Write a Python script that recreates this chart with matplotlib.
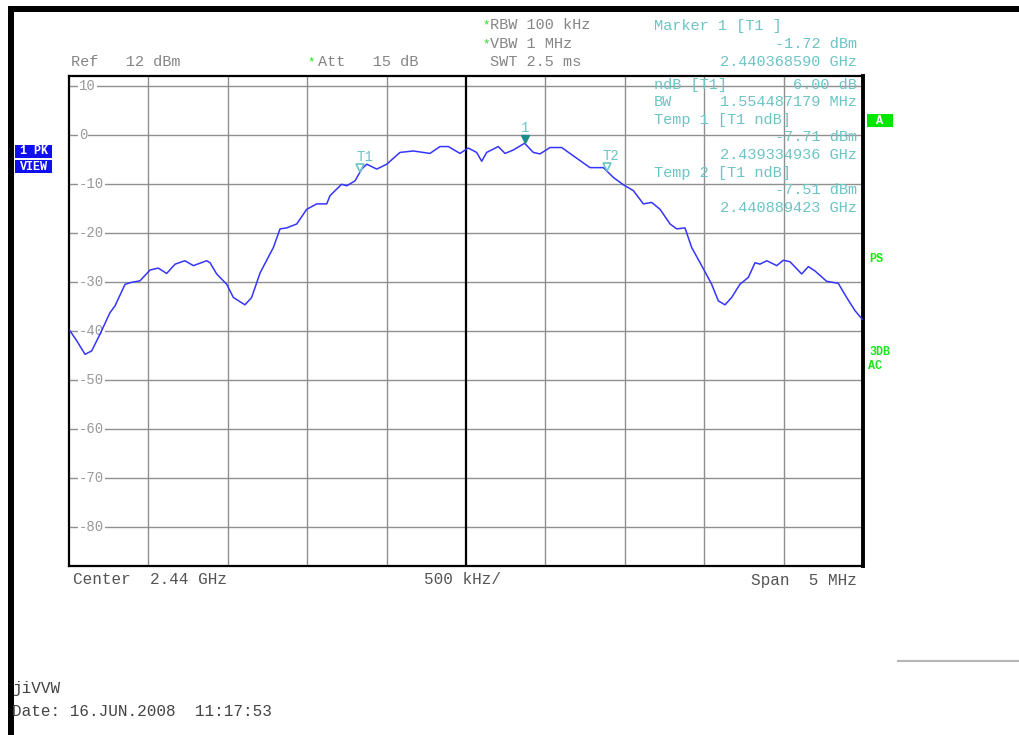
import numpy as np
import matplotlib.pyplot as plt
from matplotlib.transforms import offset_copy

W, H = 1019, 735

# trace: offset from centre (MHz) and level (dBm)
offset_mhz = [-2.494, -2.452, -2.399, -2.357, -2.305, -2.242, -2.210, -2.147, -2.105, -2.053,
              -1.990, -1.938, -1.885, -1.832, -1.770, -1.717, -1.633, -1.612, -1.570, -1.507,
              -1.465, -1.392, -1.350, -1.297, -1.213, -1.171, -1.129, -1.066, -1.003, -0.940,
              -0.877, -0.856, -0.783, -0.751, -0.699, -0.657, -0.625, -0.562, -0.499, -0.416,
              -0.332, -0.269, -0.227, -0.164, -0.111, -0.038, 0.014, 0.067, 0.099, 0.130,
              0.203, 0.246, 0.298, 0.369, 0.424, 0.466, 0.529, 0.603, 0.676, 0.781,
              0.865, 0.928, 0.991, 1.054, 1.117, 1.169, 1.222, 1.285, 1.327, 1.379,
              1.421, 1.484, 1.547, 1.589, 1.631, 1.673, 1.725, 1.778, 1.820, 1.851,
              1.894, 1.957, 1.998, 2.040, 2.114, 2.156, 2.198, 2.271, 2.344, 2.397,
              2.450, 2.494]
level_dbm = [-40.0, -42.0, -44.8, -44.1, -40.7, -36.3, -34.9, -30.5, -30.1, -29.8,
             -27.6, -27.2, -28.3, -26.4, -25.7, -26.7, -25.7, -26.1, -28.4, -30.5,
             -33.2, -34.7, -33.2, -28.2, -23.0, -19.2, -19.0, -18.2, -15.2, -14.1,
             -14.1, -12.4, -10.1, -10.4, -9.4, -7.0, -6.0, -7.0, -6.0, -3.6,
             -3.3, -3.6, -3.8, -2.4, -2.4, -3.8, -2.7, -3.6, -5.4, -3.6,
             -2.4, -3.8, -3.1, -1.72, -3.6, -3.9, -2.6, -2.6, -4.3, -6.7,
             -6.7, -8.7, -10.2, -11.4, -14.1, -13.8, -15.2, -18.2, -19.2, -19.0,
             -23.0, -26.7, -30.5, -33.9, -34.7, -33.2, -30.5, -29.1, -26.1, -26.4,
             -25.7, -26.7, -25.6, -25.9, -28.4, -26.9, -27.8, -29.9, -30.3, -33.2,
             -35.9, -37.6]

center_ghz = 2.44
span_mhz = 5.0
ref_dbm = 12
y_ticks = [10, 0, -10, -20, -30, -40, -50, -60, -70, -80]

marker_names = ['1', 'T1', 'T2']
marker_ghz = [2.440368590, 2.439334936, 2.440889423]
marker_dbm = [-1.72, -7.71, -7.51]

mono = 'Liberation Mono'
grey = '#858585'
cyan = '#6cc4c4'
green = '#19e619'

fig = plt.figure(figsize=(W / 100, H / 100), dpi=100)
ax = fig.add_axes([69 / W, 1 - 566 / H, (863 - 69) / W, (566 - 76) / H])
ax.set_xlim(-span_mhz / 2, span_mhz / 2)
ax.set_ylim(ref_dbm - 100, ref_dbm)
ax.set_xticks([])
ax.set_yticks([])
for s in ax.spines.values():
    s.set_linewidth(1.6)
    s.set_color('black')
ax.spines['right'].set_linewidth(2.8)

for v in y_ticks:
    ax.axhline(v, color='#8f8f8f', lw=1.0, zorder=1)
    ax.text(0.0125, v, str(v), transform=ax.get_yaxis_transform(), family=mono,
            fontsize=10, color='#999999', va='center', ha='left', zorder=2,
            bbox=dict(facecolor='white', edgecolor='none', pad=0.6))
for xv in np.arange(-2.0, 2.01, 0.5):
    if abs(xv) < 1e-9:
        ax.axvline(xv, color='black', lw=1.6, zorder=1)
    else:
        ax.axvline(xv, color='#8f8f8f', lw=1.0, zorder=1)

ax.plot(offset_mhz, level_dbm, color='#3535ff', lw=1.1, zorder=3)

# markers
tri = offset_copy(ax.transData, fig=fig, x=0, y=4.5, units='dots')
lab = offset_copy(ax.transData, fig=fig, x=4, y=16, units='dots')
for name, f, lv in zip(marker_names, marker_ghz, marker_dbm):
    fx = (f - center_ghz) * 1000
    if name == '1':
        ax.plot(fx, lv, marker='v', ms=6, color='#1f8c8c', transform=tri, zorder=4)
        ax.text(fx, lv, name, transform=offset_copy(ax.transData, fig=fig, x=1, y=15, units='dots'),
                family=mono, fontsize=10, color=cyan, ha='center', va='center', zorder=4)
    else:
        ax.plot(fx, lv, marker='v', ms=6, mfc='none', mec=cyan, mew=1.2,
                transform=tri, zorder=4)
        ax.text(fx, lv, name, transform=lab, family=mono, fontsize=10, color=cyan,
                ha='center', va='center', zorder=4)


def put(x, y, s, color=grey, size=11, ha='left', **kw):
    fig.text(x / W, 1 - y / H, s, family=mono, fontsize=size, color=color,
             ha=ha, va='center', **kw)


def tag(x0, x1, y0, y1, s, face):
    fig.add_artist(plt.Rectangle((x0 / W, 1 - y1 / H), (x1 - x0) / W, (y1 - y0) / H,
                                 transform=fig.transFigure, color=face, lw=0))
    put((x0 + x1) / 2, (y0 + y1) / 2, s, color='white', size=8.5, ha='center', weight='bold')


# header
put(482, 25, '*', color=green, size=9)
put(490, 25, 'RBW 100 kHz')
put(482, 44, '*', color=green, size=9)
put(490, 44, 'VBW 1 MHz')
put(490, 62, 'SWT 2.5 ms')
put(71, 62, 'Ref   12 dBm')
put(307, 62, '*', color=green, size=9)
put(318, 62, 'Att   15 dB')
put(654, 26, 'Marker 1 [T1 ]', color=cyan)
put(857, 44, '-1.72 dBm', color=cyan, ha='right')
put(857, 62, '2.440368590 GHz', color=cyan, ha='right')

# ndB readout
put(654, 85, 'ndB [T1]', color=cyan)
put(857, 85, '6.00 dB', color=cyan, ha='right')
put(654, 102, 'BW', color=cyan)
put(857, 102, '1.554487179 MHz', color=cyan, ha='right')
put(654, 120, 'Temp 1 [T1 ndB]', color=cyan)
put(857, 137, '-7.71 dBm', color=cyan, ha='right')
put(857, 155, '2.439334936 GHz', color=cyan, ha='right')
put(654, 173, 'Temp 2 [T1 ndB]', color=cyan)
put(857, 190, '-7.51 dBm', color=cyan, ha='right')
put(857, 208, '2.440889423 GHz', color=cyan, ha='right')

# side labels
tag(15, 52, 145, 158, '1 PK', '#1010ee')
tag(15, 52, 160, 173, 'VIEW', '#1010ee')
tag(867, 893, 114, 127, 'A', '#00e600')
put(869, 259, 'PS', color=green, size=8.5, weight='bold')
put(869, 352, '3DB', color=green, size=8.5, weight='bold')
put(868, 366, 'AC', color=green, size=8.5, weight='bold')

# footer
put(73, 580, 'Center  2.44 GHz', color='#555555', size=11.5)
put(463, 580, '500 kHz/', color='#555555', size=11.5, ha='center')
put(857, 580, 'Span  5 MHz', color='#555555', size=11.5, ha='right')
put(12, 689, 'jiVVW', color='#444444', size=11.5)
put(12, 712, 'Date: 16.JUN.2008  11:17:53', color='#444444', size=11.5)

# frame bars of the screenshot
fig.add_artist(plt.Rectangle((8 / W, 0), 6 / W, 1 - 6 / H, transform=fig.transFigure,
                             color='black', lw=0))
fig.add_artist(plt.Rectangle((8 / W, 1 - 12 / H), 1 - 8 / W, 6 / H, transform=fig.transFigure,
                             color='black', lw=0))
fig.add_artist(plt.Line2D([898 / W, 1], [1 - 661 / H, 1 - 661 / H], transform=fig.transFigure,
                          color='#b5b5b5', lw=1.5))

fig.savefig('out.png', dpi=100)
